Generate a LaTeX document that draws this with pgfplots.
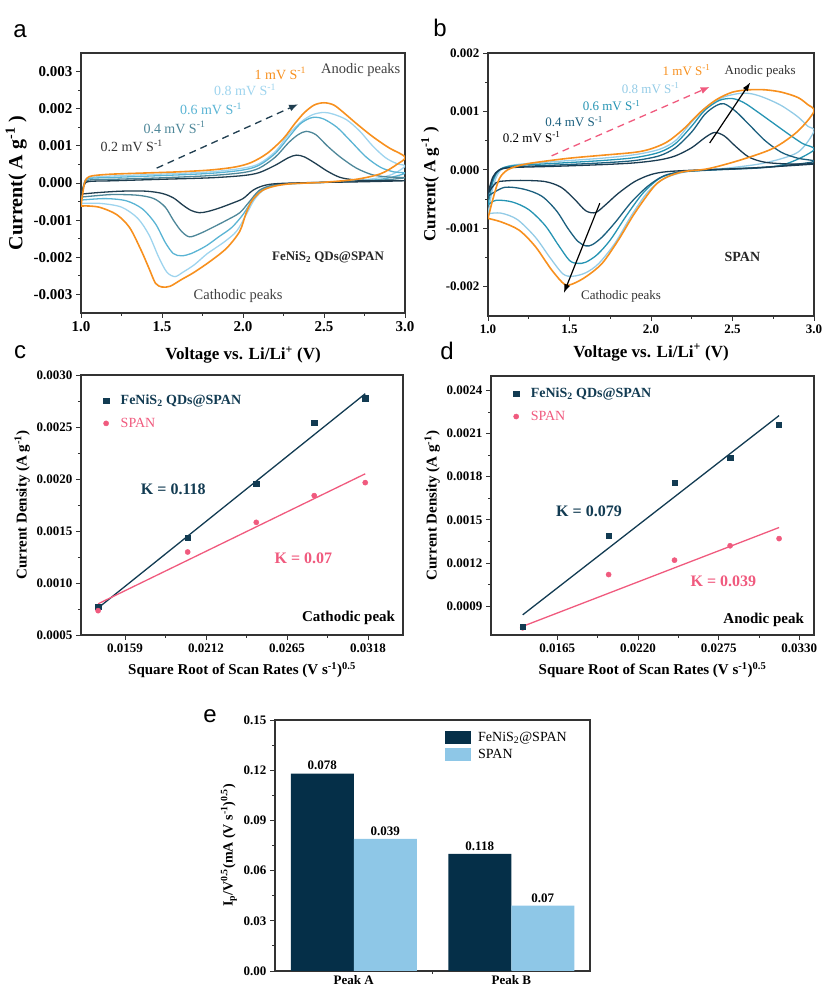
\documentclass[border=0pt]{standalone}
\usepackage{fontspec}
\setmainfont{Liberation Serif}
\newfontfamily\panelfont{Liberation Sans}
\usepackage{pgfplots}
\pgfplotsset{compat=1.18}
\usetikzlibrary{arrows.meta}

\definecolor{aA}{HTML}{1F3D4F}
\definecolor{aB}{HTML}{4E8799}
\definecolor{aC}{HTML}{5AB4D4}
\definecolor{aD}{HTML}{9ED4EE}
\definecolor{orng}{HTML}{F7901E}
\definecolor{bA}{HTML}{1A3C52}
\definecolor{bB}{HTML}{1B5F7E}
\definecolor{bC}{HTML}{2594B3}
\definecolor{bD}{HTML}{93CBE6}
\definecolor{navyc}{HTML}{123B52}
\definecolor{pinkc}{HTML}{F05A7E}
\definecolor{barA}{HTML}{052F48}
\definecolor{barB}{HTML}{8EC7E7}

\newcommand{\fs}[1]{\fontsize{#1}{#1}\selectfont}

\pgfplotsset{
  panel/.style={
    scale only axis, anchor=south west,
    axis line style={line width=1.1pt, black!80},
    tick align=outside, xtick pos=bottom, ytick pos=left,
    major tick length=5pt, minor tick length=3pt,
    tick style={line width=0.9pt, black!80},
    minor x tick num=1, minor y tick num=1,
    scaled ticks=false,
    /pgf/number format/assume math mode=true,
    /pgf/number format/fixed, /pgf/number format/fixed zerofill,
  },
  cv/.style={smooth, line width=1.3pt},
}

\begin{document}
\begin{tikzpicture}[x=1pt,y=1pt]
\useasboundingbox (0,0) rectangle (822,990);

% panel letters
\node[font=\panelfont\fs{24}] at (20,959) {a};
\node[font=\panelfont\fs{24}] at (440,962) {b};
\node[font=\panelfont\fs{24}] at (20,638) {c};
\node[font=\panelfont\fs{24}] at (447,639) {d};
\node[font=\panelfont\fs{24}] at (210,274) {e};

% ---------------- a ----------------
\begin{axis}[panel, at={(81pt,677pt)}, width=324pt, height=260pt,
  xmin=1, xmax=3, ymin=-0.0035, ymax=0.0035,
  xtick={1,1.5,2,2.5,3}, ytick={-0.003,-0.002,-0.001,0,0.001,0.002,0.003},
  xticklabel style={/pgf/number format/precision=1},
  yticklabel style={/pgf/number format/precision=3},
  tick label style={font=\bfseries\fs{15}},
  xlabel={Voltage vs. Li/Li\textsuperscript{+} (V)},
  ylabel={Current( A g\textsuperscript{-1} )},
  xlabel style={font=\bfseries\fs{17}, yshift=-8pt},
  ylabel style={font=\bfseries\fs{20}},
]
\addplot[cv, aD] coordinates {(1.0,-0.00055) (1.02,0.0) (1.05,0.00014) (1.2,0.00019) (1.5,0.00024) (1.8,0.0003) (2.0,0.0004) (2.1,0.00052) (2.2,0.00085) (2.28,0.0013) (2.36,0.00165) (2.43,0.00184) (2.5,0.0019) (2.56,0.00185) (2.64,0.0017) (2.72,0.0014) (2.8,0.001) (2.88,0.00068) (2.95,0.00052) (3.0,0.00045)
 (2.9,0.0002) (2.7,0.00006) (2.4,0.0) (2.22,-0.00005) (2.13,-0.00018) (2.07,-0.00045) (2.02,-0.00085) (1.96,-0.0013) (1.88,-0.0016) (1.78,-0.0019) (1.7,-0.0022) (1.63,-0.0024) (1.58,-0.00252) (1.53,-0.0024) (1.48,-0.002) (1.42,-0.0014) (1.35,-0.00095) (1.25,-0.00065) (1.12,-0.00055) (1.0,-0.00055)};
\addplot[cv, aC] coordinates {(1.0,-0.00048) (1.02,0.0) (1.05,0.00012) (1.2,0.00015) (1.5,0.0002) (1.8,0.00026) (2.0,0.00035) (2.1,0.00048) (2.2,0.0008) (2.28,0.00122) (2.35,0.00158) (2.41,0.00174) (2.45,0.00177) (2.5,0.00172) (2.58,0.0015) (2.66,0.00115) (2.76,0.0007) (2.85,0.00042) (2.93,0.0003) (3.0,0.00026)
 (2.85,0.0001) (2.6,0.00003) (2.35,-0.00001) (2.2,-0.00006) (2.12,-0.00018) (2.06,-0.00045) (2.0,-0.00085) (1.93,-0.0012) (1.85,-0.00145) (1.77,-0.0017) (1.68,-0.0019) (1.62,-0.00196) (1.57,-0.0019) (1.52,-0.0016) (1.46,-0.0011) (1.38,-0.0007) (1.28,-0.00048) (1.15,-0.00042) (1.0,-0.00046)};
\addplot[cv, aB] coordinates {(1.0,-0.0004) (1.02,-0.00002) (1.05,0.00008) (1.2,0.0001) (1.5,0.00014) (1.8,0.0002) (2.0,0.00028) (2.1,0.0004) (2.2,0.0007) (2.28,0.00108) (2.34,0.0013) (2.39,0.00139) (2.45,0.0013) (2.52,0.001) (2.6,0.0007) (2.7,0.0004) (2.8,0.00022) (2.9,0.00016) (3.0,0.00014)
 (2.8,0.00006) (2.5,0.00002) (2.3,-0.00001) (2.18,-0.00006) (2.1,-0.0002) (2.04,-0.0005) (1.98,-0.0008) (1.9,-0.001) (1.82,-0.00118) (1.74,-0.00135) (1.67,-0.00145) (1.62,-0.0013) (1.57,-0.001) (1.52,-0.00065) (1.45,-0.00042) (1.35,-0.00033) (1.2,-0.00031) (1.1,-0.00034) (1.0,-0.00038)};
\addplot[cv, aA] coordinates {(1.0,-0.00033) (1.02,-0.00005) (1.05,0.00004) (1.2,0.00006) (1.5,0.0001) (1.8,0.00014) (2.0,0.0002) (2.1,0.00028) (2.2,0.00048) (2.28,0.00068) (2.33,0.00075) (2.38,0.0007) (2.45,0.00052) (2.52,0.00032) (2.6,0.00015) (2.7,0.00008) (2.85,0.00006) (3.0,0.00006)
 (2.7,0.00003) (2.4,0.00001) (2.2,-0.00002) (2.12,-0.00008) (2.06,-0.0002) (2.0,-0.00042) (1.93,-0.00055) (1.85,-0.00068) (1.78,-0.00077) (1.73,-0.0008) (1.68,-0.00074) (1.63,-0.0006) (1.57,-0.0004) (1.5,-0.00028) (1.4,-0.00022) (1.25,-0.00022) (1.1,-0.00026) (1.0,-0.00030)};
\addplot[cv, orng, line width=1.6pt] coordinates {(1.0,-0.00062) (1.01,-0.0003) (1.025,0.00005) (1.05,0.00017) (1.1,0.00021) (1.2,0.00024) (1.4,0.00027) (1.6,0.0003) (1.8,0.00035) (1.95,0.00043) (2.05,0.00055) (2.15,0.0008) (2.25,0.0012) (2.32,0.0016) (2.38,0.0019) (2.44,0.0021) (2.50,0.00216) (2.56,0.0021) (2.62,0.0019) (2.7,0.0016) (2.8,0.00125) (2.9,0.00095) (3.0,0.0007)
 (2.95,0.0005) (2.85,0.00025) (2.7,0.0001) (2.5,0.00002) (2.3,-0.00002) (2.2,-0.00008) (2.12,-0.0002) (2.06,-0.00045) (2.02,-0.0008) (1.98,-0.0013) (1.9,-0.00175) (1.8,-0.0021) (1.7,-0.0024) (1.62,-0.0026) (1.55,-0.00278) (1.50,-0.0028) (1.46,-0.0027) (1.42,-0.0023) (1.37,-0.0018) (1.3,-0.0012) (1.22,-0.00085) (1.12,-0.00066) (1.05,-0.00062) (1.0,-0.00062)};
\draw[aA, line width=1.3pt, dash pattern=on 7pt off 5pt, -{Latex[length=9pt,width=7pt]}] (axis cs:1.467,0.0004) -- (axis cs:2.34,0.00212);
\node[anchor=west, font=\fs{14}, black!80] at (axis cs:1.1,0.001) {0.2 mV S\textsuperscript{-1}};
\node[anchor=west, font=\fs{14}, aB] at (axis cs:1.364,0.0015) {0.4 mV S\textsuperscript{-1}};
\node[anchor=west, font=\fs{14}, aC] at (axis cs:1.59,0.002) {0.6 mV S\textsuperscript{-1}};
\node[anchor=west, font=\fs{14}, aD] at (axis cs:1.8,0.0025) {0.8 mV S\textsuperscript{-1}};
\node[anchor=west, font=\fs{14}, orng] at (axis cs:2.05,0.00295) {1 mV S\textsuperscript{-1}};
\node[anchor=west, font=\fs{14.5}, black!75] at (axis cs:2.46,0.00303) {Anodic peaks};
\node[font=\fs{14.5}, black!75] at (axis cs:1.97,-0.00303) {Cathodic peaks};
\node[font=\bfseries\fs{13}, black!85] at (axis cs:2.525,-0.002) {FeNiS\textsubscript{2} QDs@SPAN};
\end{axis}

% ---------------- b ----------------
\begin{axis}[panel, at={(488pt,674pt)}, width=326pt, height=263pt,
  xmin=1, xmax=3, ymin=-0.0025, ymax=0.002,
  xtick={1,1.5,2,2.5,3}, ytick={-0.002,-0.001,0,0.001,0.002},
  xticklabel style={/pgf/number format/precision=1},
  yticklabel style={/pgf/number format/precision=3},
  tick label style={font=\bfseries\fs{13}},
  xlabel={Voltage vs. Li/Li\textsuperscript{+} (V)},
  ylabel={Current( A g\textsuperscript{-1} )},
  xlabel style={font=\bfseries\fs{17}, yshift=-4pt},
  ylabel style={font=\bfseries\fs{17}},
]
\addplot[cv, bD] coordinates {(1.0,-0.00075) (1.03,-0.0003) (1.07,-0.00003) (1.15,0.00008) (1.4,0.00014) (1.7,0.0002) (1.9,0.00026) (2.05,0.00035) (2.15,0.0005) (2.25,0.00082) (2.35,0.0011) (2.45,0.00125) (2.55,0.00131) (2.62,0.0013) (2.7,0.00123) (2.8,0.0011) (2.9,0.00091) (2.96,0.00075) (3.0,0.00066)
 (2.9,0.0003) (2.7,0.00012) (2.5,0.00004) (2.35,0.0) (2.2,-0.00004) (2.08,-0.00015) (1.98,-0.00038) (1.88,-0.00078) (1.78,-0.00125) (1.68,-0.0016) (1.6,-0.00176) (1.52,-0.00182) (1.46,-0.00178) (1.38,-0.0015) (1.29,-0.00115) (1.18,-0.00085) (1.08,-0.00074) (1.0,-0.00075)};
\addplot[cv, bC] coordinates {(1.0,-0.0006) (1.03,-0.0002) (1.07,0.0) (1.15,0.00007) (1.4,0.00011) (1.7,0.00016) (1.9,0.00021) (2.05,0.0003) (2.15,0.00045) (2.25,0.00075) (2.33,0.00102) (2.42,0.00119) (2.5,0.00122) (2.57,0.00115) (2.65,0.001) (2.75,0.0008) (2.85,0.0006) (2.93,0.00045) (3.0,0.00034)
 (2.8,0.00008) (2.5,0.00002) (2.3,-0.00001) (2.15,-0.00005) (2.05,-0.00015) (1.95,-0.0004) (1.85,-0.00078) (1.75,-0.0012) (1.67,-0.00145) (1.6,-0.00158) (1.55,-0.0016) (1.5,-0.00155) (1.43,-0.00128) (1.35,-0.00095) (1.25,-0.00068) (1.15,-0.00055) (1.05,-0.00052) (1.0,-0.0006)};
\addplot[cv, bB] coordinates {(1.0,-0.00045) (1.03,-0.00015) (1.07,0.0) (1.15,0.00005) (1.4,0.00008) (1.7,0.00012) (1.9,0.00016) (2.05,0.00024) (2.15,0.00038) (2.25,0.00065) (2.33,0.00095) (2.4,0.0011) (2.45,0.00113) (2.52,0.001) (2.6,0.00078) (2.7,0.0005) (2.8,0.0003) (2.9,0.0002) (3.0,0.00014)
 (2.7,0.00004) (2.4,0.0) (2.2,-0.00003) (2.08,-0.0001) (1.98,-0.00028) (1.88,-0.00055) (1.78,-0.0009) (1.7,-0.00115) (1.64,-0.00128) (1.6,-0.0013) (1.55,-0.00122) (1.49,-0.001) (1.42,-0.0007) (1.33,-0.00045) (1.22,-0.00033) (1.1,-0.0003) (1.0,-0.00045)};
\addplot[cv, bA] coordinates {(1.0,-0.0004) (1.03,-0.00012) (1.07,0.0) (1.15,0.00004) (1.4,0.00006) (1.7,0.00009) (1.9,0.00012) (2.05,0.00017) (2.15,0.00024) (2.25,0.00038) (2.33,0.00055) (2.39,0.00064) (2.45,0.00058) (2.52,0.0004) (2.6,0.00022) (2.7,0.00013) (2.85,0.0001) (3.0,0.0001)
 (2.6,0.00003) (2.3,0.0) (2.1,-0.00003) (2.0,-0.00008) (1.9,-0.0002) (1.8,-0.0004) (1.72,-0.0006) (1.66,-0.00073) (1.6,-0.0007) (1.53,-0.0005) (1.45,-0.0003) (1.35,-0.0002) (1.2,-0.00018) (1.1,-0.00019) (1.05,-0.00022) (1.0,-0.0004)};
\addplot[cv, orng, line width=1.6pt] coordinates {(1.0,-0.00083) (1.03,-0.0005) (1.07,-0.00015) (1.12,0.0) (1.2,0.00008) (1.3,0.00013) (1.5,0.0002) (1.7,0.00025) (1.9,0.0003) (2.0,0.00036) (2.1,0.00048) (2.2,0.0007) (2.3,0.00098) (2.4,0.0012) (2.5,0.00133) (2.6,0.00137) (2.7,0.00137) (2.8,0.00133) (2.9,0.00124) (2.96,0.00112) (3.0,0.001)
 (2.9,0.00066) (2.75,0.00037) (2.55,0.00017) (2.35,0.00002) (2.2,-0.00003) (2.1,-0.00012) (2.02,-0.00028) (1.9,-0.00074) (1.8,-0.0012) (1.7,-0.0016) (1.6,-0.00183) (1.52,-0.00195) (1.47,-0.00196) (1.39,-0.00171) (1.29,-0.00131) (1.19,-0.00103) (1.08,-0.00089) (1.0,-0.00083)};
\draw[pinkc, line width=1.3pt, dash pattern=on 7pt off 5pt, -{Latex[length=9pt,width=7pt]}] (axis cs:1.39,0.00024) -- (axis cs:2.36,0.00142);
\draw[black, line width=1.2pt, -{Latex[length=9pt,width=6pt]}] (axis cs:2.36,0.00046) -- (axis cs:2.61,0.0015);
\draw[black, line width=1.2pt, -{Latex[length=9pt,width=6pt]}] (axis cs:1.686,-0.00057) -- (axis cs:1.465,-0.00211);
\node[anchor=west, font=\fs{13}, black] at (axis cs:1.07,0.00056) {0.2 mV S\textsuperscript{-1}};
\node[anchor=west, font=\fs{13}, bB] at (axis cs:1.33,0.00083) {0.4 mV S\textsuperscript{-1}};
\node[anchor=west, font=\fs{13}, bC] at (axis cs:1.56,0.0011) {0.6 mV S\textsuperscript{-1}};
\node[anchor=west, font=\fs{13}, bD] at (axis cs:1.80,0.0014) {0.8 mV S\textsuperscript{-1}};
\node[anchor=west, font=\fs{13}, orng] at (axis cs:2.05,0.00171) {1 mV S\textsuperscript{-1}};
\node[anchor=west, font=\fs{13}, black!80] at (axis cs:2.43,0.00169) {Anodic peaks};
\node[anchor=west, font=\fs{13}, black!80] at (axis cs:1.55,-0.00217) {Cathodic peaks};
\node[anchor=west, font=\bfseries\fs{14}, black!85] at (axis cs:2.43,-0.00149) {SPAN};
\end{axis}

% ---------------- c ----------------
\begin{axis}[panel, at={(81pt,355pt)}, width=322pt, height=260pt,
  xmin=0.01302, xmax=0.03409, ymin=0.0005, ymax=0.0030,
  xtick={0.0159,0.0212,0.0265,0.0318},
  ytick={0.0005,0.0010,0.0015,0.0020,0.0025,0.0030},
  tick label style={font=\bfseries\fs{13}, /pgf/number format/precision=4},
  xlabel={Square Root of Scan Rates (V s\textsuperscript{-1})\textsuperscript{0.5}},
  ylabel={Current Density (A g\textsuperscript{-1})},
  label style={font=\bfseries\fs{15}},
  xlabel style={yshift=-3pt},
  legend style={draw=none, fill=none, at={(0.06,0.94)}, anchor=north west,
    font=\bfseries\fs{14}, row sep=8pt,
    /tikz/every odd column/.append style={column sep=10pt}},
  legend cell align=left,
  legend image code/.code={\draw[#1] plot coordinates {(0pt,0pt)};},
]
\addplot[only marks, mark=square*, mark size=2.6pt, navyc] coordinates {(0.01414,0.000772) (0.02,0.001439) (0.02449,0.001958) (0.02828,0.002538) (0.03162,0.002776)};
\addlegendentry{\textcolor{navyc}{FeNiS\textsubscript{2} QDs@SPAN}}
\addplot[only marks, mark=*, mark size=2.6pt, pinkc] coordinates {(0.01414,0.000734) (0.02,0.001298) (0.02449,0.001583) (0.02828,0.00184) (0.03162,0.001965)};
\addlegendentry{\textcolor{pinkc}{\mdseries SPAN}}
\addplot[navyc, line width=1.3pt, forget plot] coordinates {(0.01414,0.00076) (0.03162,0.00282)};
\addplot[pinkc, line width=1.3pt, forget plot] coordinates {(0.01414,0.00080) (0.03162,0.00205)};
\node[font=\bfseries\fs{16}, navyc] at (axis cs:0.01906,0.0019) {K = 0.118};
\node[font=\bfseries\fs{16}, pinkc] at (axis cs:0.02757,0.00124) {K = 0.07};
\node[font=\bfseries\fs{15}, anchor=east] at (axis cs:0.0338,0.00066) {Cathodic peak};
\end{axis}

% ---------------- d ----------------
\begin{axis}[panel, at={(491pt,355pt)}, width=323pt, height=259pt,
  xmin=0.01198, xmax=0.0340, ymin=0.0007, ymax=0.0025,
  xtick={0.0165,0.0220,0.0275,0.0330},
  ytick={0.0009,0.0012,0.0015,0.0018,0.0021,0.0024},
  tick label style={font=\bfseries\fs{13}, /pgf/number format/precision=4},
  xlabel={Square Root of Scan Rates (V s\textsuperscript{-1})\textsuperscript{0.5}},
  ylabel={Current Density (A g\textsuperscript{-1})},
  label style={font=\bfseries\fs{15}},
  xlabel style={yshift=-3pt},
  legend style={draw=none, fill=none, at={(0.06,0.97)}, anchor=north west,
    font=\bfseries\fs{14}, row sep=8pt,
    /tikz/every odd column/.append style={column sep=10pt}},
  legend cell align=left,
  legend image code/.code={\draw[#1] plot coordinates {(0pt,0pt)};},
]
\addplot[only marks, mark=square*, mark size=2.6pt, navyc] coordinates {(0.01414,0.000755) (0.02,0.00139) (0.02449,0.00176) (0.02828,0.001934) (0.03162,0.00216)};
\addlegendentry{\textcolor{navyc}{FeNiS\textsubscript{2} QDs@SPAN}}
\addplot[only marks, mark=*, mark size=2.6pt, pinkc] coordinates {(0.01414,0.00075) (0.02,0.00112) (0.02449,0.00122) (0.02828,0.00132) (0.03162,0.00137)};
\addlegendentry{\textcolor{pinkc}{\mdseries SPAN}}
\addplot[navyc, line width=1.3pt, forget plot] coordinates {(0.01414,0.00084) (0.03162,0.002225)};
\addplot[pinkc, line width=1.3pt, forget plot] coordinates {(0.01414,0.00076) (0.03162,0.001447)};
\addplot[only marks, mark=square*, mark size=2.6pt, navyc, forget plot] coordinates {(0.01414,0.000755)};
\node[font=\bfseries\fs{16}, navyc] at (axis cs:0.01866,0.00156) {K = 0.079};
\node[font=\bfseries\fs{16}, pinkc] at (axis cs:0.02782,0.00107) {K = 0.039};
\node[font=\bfseries\fs{15}, anchor=east] at (axis cs:0.03355,0.000808) {Anodic peak};
\end{axis}

% ---------------- e ----------------
\begin{axis}[panel, at={(275pt,19pt)}, width=315pt, height=251pt,
  ybar, bar width=0.4,
  xmin=-0.5, xmax=1.5, ymin=0, ymax=0.15,
  xtick={0,1}, xticklabels={Peak A, Peak B}, major x tick style={draw=none},
  minor xtick={0.5},
  xticklabel style={inner sep=1pt, yshift=2pt},
  ytick={0,0.03,0.06,0.09,0.12,0.15},
  yticklabel style={/pgf/number format/precision=2},
  tick label style={font=\bfseries\fs{13}},
  ylabel={I\textsubscript{p}/V\textsuperscript{0.5}(mA (V s\textsuperscript{-1})\textsuperscript{0.5})},
  ylabel style={font=\bfseries\fs{14}},
  legend style={draw=none, fill=none, at={(0.53,0.97)}, anchor=north west,
    font=\fs{14}, row sep=3pt,
    /tikz/every odd column/.append style={column sep=5pt}},
  legend cell align=left,
  legend image code/.code={\fill[#1] (0pt,-6.5pt) rectangle (26pt,6.5pt);},
  point meta=explicit symbolic,
  nodes near coords={\pgfplotspointmeta},
  nodes near coords style={font=\bfseries\fs{13}, black},
]
\addplot[fill=barA, draw=none, bar shift=-0.2] coordinates {(0,0.118) [0.078] (1,0.070) [0.118]};
\addlegendentry{FeNiS\textsubscript{2}@SPAN}
\addplot[fill=barB, draw=none, bar shift=0.2] coordinates {(0,0.079) [0.039] (1,0.039) [0.07]};
\addlegendentry{SPAN}
\end{axis}
\end{tikzpicture}
\end{document}
